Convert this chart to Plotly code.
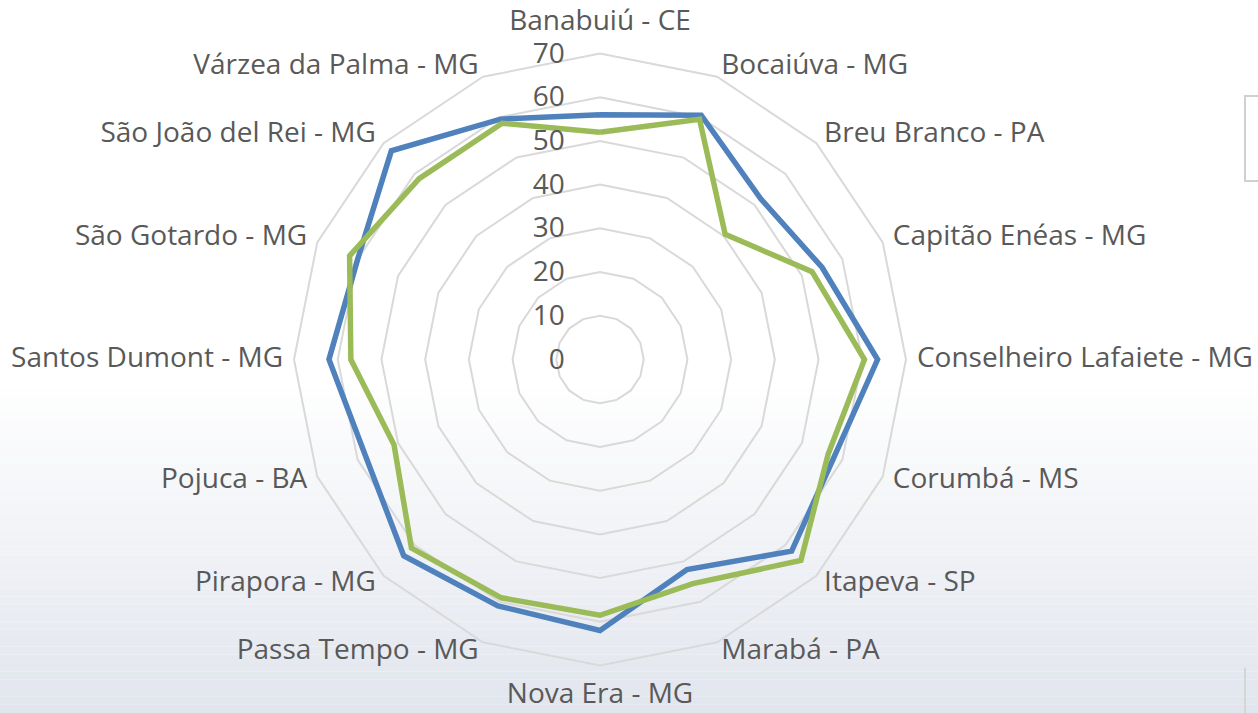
import plotly.graph_objects as go

# Cities on the radar, clockwise from the top
categories = [
    "Banabuiú - CE", "Bocaiúva - MG", "Breu Branco - PA", "Capitão Enéas - MG",
    "Conselheiro Lafaiete - MG", "Corumbá - MS", "Itapeva - SP", "Marabá - PA",
    "Nova Era - MG", "Passa Tempo - MG", "Pirapora - MG", "Pojuca - BA",
    "Santos Dumont - MG", "São Gotardo - MG", "São João del Rei - MG",
    "Várzea da Palma - MG",
]
serie_azul = [56, 60.5, 52, 55, 63.5, 58, 62, 52, 62, 61, 63.5, 58, 62, 60, 67.5, 59.5]
serie_verde = [52, 59.5, 40.5, 52.5, 60.5, 56.5, 65, 55.5, 58.5, 59, 61, 51, 57, 62, 58.5, 58.5]
radial_ticks = [0, 10, 20, 30, 40, 50, 60, 70]

W, H = 1258, 713
CX, CY = 600, 359.5
R70 = 306            # pixel radius of the 70 ring
RMAX = 70
RSPAN = 75           # radial range reaches a little past the outer ring for the labels
R = R70 * RSPAN / RMAX
FONT = "Open Sans"
FSIZE = 28
TXT = "#595959"
GRID = "#D9D9D9"


def closed(seq):
    return list(seq) + [seq[0]]


fig = go.Figure()
fig.add_trace(go.Scatterpolar(
    r=closed(serie_azul), theta=closed(categories), mode="lines",
    line=dict(color="#4F81BD", width=5.5), name="Série 1", showlegend=False,
))
fig.add_trace(go.Scatterpolar(
    r=closed(serie_verde), theta=closed(categories), mode="lines",
    line=dict(color="#9BBB59", width=5.5), name="Série 2", showlegend=False,
))

# category labels: set just outside the outer ring, anchored on the side facing away
n = len(categories)
label_r, label_pos = [], []
for i in range(n):
    if i == 0:
        label_r.append(73.7)
        label_pos.append("top center")
    elif i == n // 2:
        label_r.append(73.7)
        label_pos.append("bottom center")
    elif i < n // 2:
        label_r.append(72.5)
        label_pos.append("middle right")
    else:
        label_r.append(72.5)
        label_pos.append("middle left")

fig.add_trace(go.Scatterpolar(
    r=label_r, theta=categories, mode="text", text=categories,
    textposition=label_pos, cliponaxis=False, hoverinfo="skip",
    textfont=dict(family=FONT, size=FSIZE, color=TXT), showlegend=False,
))

# soft vertical gradient in the lower half of the background
shapes = []
g0, steps = 380, 40
top_c, bot_c = (255, 255, 255), (225, 229, 237)
for i in range(steps):
    y0 = g0 + (H - g0) * i / steps
    y1 = g0 + (H - g0) * (i + 1) / steps
    t = (i + 0.5) / steps
    c = tuple(round(a + (b - a) * t) for a, b in zip(top_c, bot_c))
    shapes.append(dict(
        type="rect", xref="paper", yref="paper", layer="below",
        x0=0, x1=1, y0=1 - y1 / H, y1=1 - y0 / H,
        fillcolor="rgb(%d,%d,%d)" % c, line=dict(width=0),
    ))

# legend frame running off the right edge
shapes.append(dict(
    type="rect", xref="paper", yref="paper", layer="above",
    x0=1245 / W, x1=1.05, y0=1 - 181 / H, y1=1 - 96 / H,
    fillcolor="white", line=dict(color="#D0D0D0", width=2),
))
shapes.append(dict(
    type="line", xref="paper", yref="paper", layer="above",
    x0=1245 / W, x1=1245 / W, y0=0, y1=1 - 668 / H,
    line=dict(color="#D6D6D6", width=2),
))

fig.update_layout(
    width=W, height=H,
    margin=dict(l=0, r=0, t=0, b=0),
    paper_bgcolor="white",
    font=dict(family=FONT, color=TXT, size=FSIZE),
    shapes=shapes,
    polar=dict(
        domain=dict(x=[(CX - R) / W, (CX + R) / W],
                    y=[(H - CY - R) / H, (H - CY + R) / H]),
        bgcolor="rgba(0,0,0,0)",
        gridshape="linear",
        radialaxis=dict(
            range=[0, RSPAN], tickvals=radial_ticks, angle=90, tickangle=90,
            side="counterclockwise",
            showline=False, gridcolor=GRID, gridwidth=1.5,
            ticks="outside", ticklen=25, tickcolor="rgba(0,0,0,0)",
            tickfont=dict(family=FONT, size=FSIZE, color=TXT),
        ),
        angularaxis=dict(
            direction="clockwise", rotation=90,
            showgrid=False, showline=False,
            showticklabels=False, ticks="",
        ),
    ),
)

fig.write_html("out.html")
